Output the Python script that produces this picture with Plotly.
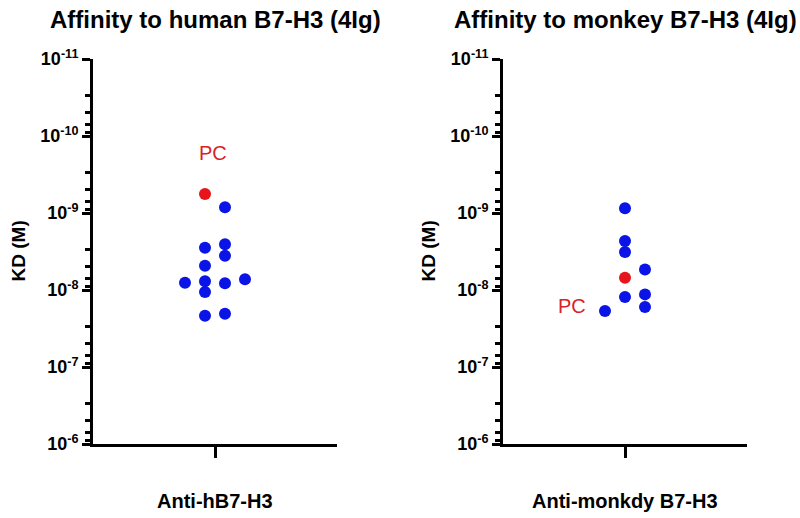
import numpy as np
import plotly.graph_objects as go

# ---------------- data ----------------
titles = ["Affinity to human B7-H3 (4Ig)", "Affinity to monkey B7-H3 (4Ig)"]
categories = ["Anti-hB7-H3", "Anti-monkdy B7-H3"]
y_title = "KD (M)"

# human panel (blue = candidates, red = positive control)
human_kd = [8.4e-10, 2.83e-9, 2.55e-9, 3.59e-9, 4.83e-9, 8.03e-9, 7.71e-9,
            8.18e-9, 7.26e-9, 1.06e-8, 2.16e-8, 2.03e-8]
human_slot = [1, -1, 1, 1, -1, -3, -1, 1, 3, -1, -1, 1]
human_pc_kd = [5.66e-10]
human_pc_slot = [-1]

# monkey panel
monkey_kd = [8.69e-10, 2.31e-9, 3.2e-9, 5.42e-9, 1.23e-8, 1.14e-8, 1.66e-8, 1.87e-8]
monkey_slot = [0, 0, 0, 2, 0, 2, 2, -2]
monkey_pc_kd = [6.92e-9]
monkey_pc_slot = [0]

# PC label anchors (slot, KD)
pc_label_human = (-0.2, 1.66e-10)
pc_label_monkey = (-5.3, 1.6e-8)

tick_vals = [1e-11, 1e-10, 1e-9, 1e-8, 1e-7, 1e-6]
tick_text = ["10<sup>-11</sup>", "10<sup>-10</sup>", "10<sup>-9</sup>",
             "10<sup>-8</sup>", "10<sup>-7</sup>", "10<sup>-6</sup>"]
minor_vals = [m * 10.0 ** d for d in range(-11, -6) for m in (3, 5, 7, 9)]

BLUE = "#0a14e6"
RED = "#e8141b"
PCTXT = "#d92228"
FONT = "Liberation Sans, Arial, sans-serif"

fig = go.Figure()

def dots(x, y, color, xa, ya):
    fig.add_trace(go.Scatter(x=x, y=y, mode="markers", xaxis=xa, yaxis=ya,
                             marker=dict(size=12, color=color, line=dict(width=0)),
                             showlegend=False, hoverinfo="y"))

dots(human_slot, human_kd, BLUE, "x", "y")
dots(human_pc_slot, human_pc_kd, RED, "x", "y")
dots(monkey_slot, monkey_kd, BLUE, "x2", "y2")
dots(monkey_pc_slot, monkey_pc_kd, RED, "x2", "y2")

ydom = [74 / 518, 459 / 518]
xdom1 = [93 / 800, 337 / 800]
xdom2 = [503 / 800, 747 / 800]

def yaxis(anchor):
    return dict(type="log", range=[-6, -11], domain=ydom, anchor=anchor,
                automargin=False,
                showgrid=False, zeroline=False,
                showline=True, linecolor="black", linewidth=3,
                ticks="outside", ticklen=8, tickwidth=3, tickcolor="black",
                tickmode="array", tickvals=tick_vals, ticktext=tick_text,
                tickfont=dict(family=FONT, size=18, color="black", weight="bold"),
                minor=dict(tickmode="array", tickvals=minor_vals, ticks="outside",
                           ticklen=5, tickwidth=3, tickcolor="black", showgrid=False))

def xaxis(dom, anchor):
    return dict(range=[-12.2, 12.2], domain=dom, anchor=anchor,
                automargin=False,
                showgrid=False, zeroline=False,
                showline=True, linecolor="black", linewidth=3,
                ticks="outside", ticklen=11, tickwidth=3, tickcolor="black",
                tickmode="array", tickvals=[0], ticktext=[""], fixedrange=True)

fig.update_layout(
    width=800, height=518,
    margin=dict(l=0, r=0, t=0, b=0, autoexpand=False),
    paper_bgcolor="white", plot_bgcolor="white",
    xaxis=xaxis(xdom1, "y"),
    yaxis=yaxis("x"),
    xaxis2=xaxis(xdom2, "y2"),
    yaxis2=yaxis("x2"),
)

ann = []
centers = [(xdom1[0] + xdom1[1]) / 2, (xdom2[0] + xdom2[1]) / 2]
for i in range(2):
    ann.append(dict(text=titles[i], x=centers[i], y=1 - 19 / 518, xref="paper", yref="paper",
                    showarrow=False, xanchor="center", yanchor="middle",
                    font=dict(family=FONT, size=24, color="black", weight="bold")))
    ann.append(dict(text=categories[i], x=centers[i], y=1 - 501 / 518, xref="paper", yref="paper",
                    showarrow=False, xanchor="center", yanchor="middle",
                    font=dict(family=FONT, size=20, color="black", weight="bold")))
for xp in (18 / 800, 428 / 800):
    ann.append(dict(text=y_title, x=xp, y=(ydom[0] + ydom[1]) / 2, xref="paper", yref="paper",
                    showarrow=False, textangle=-90, xanchor="center", yanchor="middle",
                    font=dict(family=FONT, size=19, color="black", weight="bold")))
ann.append(dict(text="PC", x=pc_label_human[0], y=np.log10(pc_label_human[1]), xref="x", yref="y",
                showarrow=False, font=dict(family=FONT, size=20, color=PCTXT)))
ann.append(dict(text="PC", x=pc_label_monkey[0], y=np.log10(pc_label_monkey[1]), xref="x2", yref="y2",
                showarrow=False, font=dict(family=FONT, size=20, color=PCTXT)))
fig.update_layout(annotations=ann)

fig.write_html("out.html")
